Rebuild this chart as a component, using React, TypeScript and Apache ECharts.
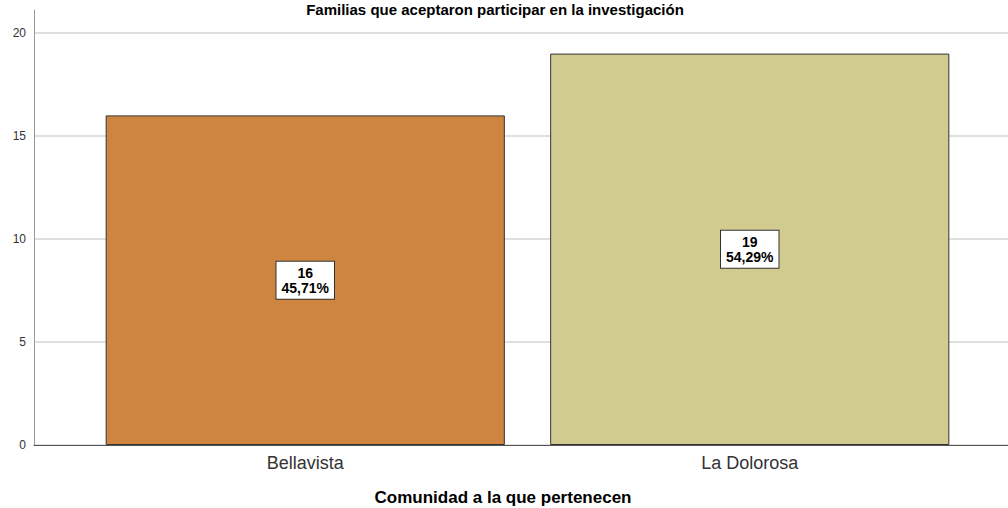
import React, { useEffect, useRef } from "react";
import * as echarts from "echarts";

const titleText = "Familias que aceptaron participar en la investigación";
const xAxisTitle = "Comunidad a la que pertenecen";
const categories = ["Bellavista", "La Dolorosa"];
const counts = [16, 19];
const barColors = ["#CD853F", "#D1CB8F"];
const yTicks = [0, 5, 10, 15, 20];

export default function App() {
  const ref = useRef<HTMLDivElement>(null);
  useEffect(() => {
    document.body.style.margin = "0";
    const chart = echarts.init(ref.current!, null, { renderer: "svg" });
    const total = counts.reduce((a, b) => a + b, 0);
    const font = "Arial, 'Liberation Sans', sans-serif";
    chart.setOption({
      animation: false,
      backgroundColor: "#ffffff",
      grid: [
        { left: 34, right: 0, top: 10, bottom: 63 },
        { left: 34, right: 0, top: 33, bottom: 63 },
        { left: 83, right: 36, top: 33, bottom: 63 },
      ],
      xAxis: [
        {
          gridIndex: 0, type: "value", min: 0, max: 1,
          axisLine: { show: true, lineStyle: { color: "#555", width: 1 } },
          axisTick: { show: false }, axisLabel: { show: false }, splitLine: { show: false },
        },
        {
          gridIndex: 1, type: "value", min: 0, max: 1, show: false,
        },
        {
          gridIndex: 2, type: "category", data: categories,
          axisLine: { show: false }, axisTick: { show: false },
          axisLabel: { fontSize: 18, color: "#333", fontFamily: font, margin: 9 },
        },
      ],
      yAxis: [
        {
          gridIndex: 0, type: "value", min: 0, max: 21.1,
          axisLine: { show: true, lineStyle: { color: "#999", width: 1 } },
          axisTick: { show: false }, axisLabel: { show: false }, splitLine: { show: false },
        },
        {
          gridIndex: 1, type: "value", min: yTicks[0], max: yTicks[yTicks.length - 1], interval: 5,
          axisLine: { show: false }, axisTick: { show: false },
          axisLabel: { fontSize: 12, color: "#333", fontFamily: font, margin: 8 },
          splitLine: { show: true, lineStyle: { color: "#d6d6d6", width: 1.5 } },
        },
        {
          gridIndex: 2, type: "value", min: 0, max: 20, show: false,
        },
      ],
      series: [
        {
          type: "bar",
          xAxisIndex: 2,
          yAxisIndex: 2,
          barCategoryGap: "10.2%",
          data: counts.map((v, i) => ({
            value: v,
            itemStyle: { color: barColors[i], borderColor: "#333", borderWidth: 1 },
          })),
          label: {
            show: true,
            position: "inside",
            formatter: (p: any) =>
              `${p.value}\n${((p.value / total) * 100).toFixed(2).replace(".", ",")}%`,
            backgroundColor: "#ffffff",
            borderColor: "#333",
            borderWidth: 1,
            padding: [4, 5, 3, 5],
            fontSize: 14,
            lineHeight: 15,
            fontWeight: "bold",
            color: "#000",
            fontFamily: font,
            align: "center",
          },
        },
      ],
      graphic: [
        {
          type: "text",
          x: 495,
          y: 9,
          style: {
            text: titleText,
            font: `bold 15px ${font}`,
            fill: "#000",
            textAlign: "center",
            textVerticalAlign: "middle",
          },
        },
        {
          type: "text",
          x: 503,
          y: 497,
          style: {
            text: xAxisTitle,
            font: `bold 17px ${font}`,
            fill: "#000",
            textAlign: "center",
            textVerticalAlign: "middle",
          },
        },
      ],
    });
    return () => chart.dispose();
  }, []);
  return <div ref={ref} style={{ width: 1008, height: 508 }} />;
}
